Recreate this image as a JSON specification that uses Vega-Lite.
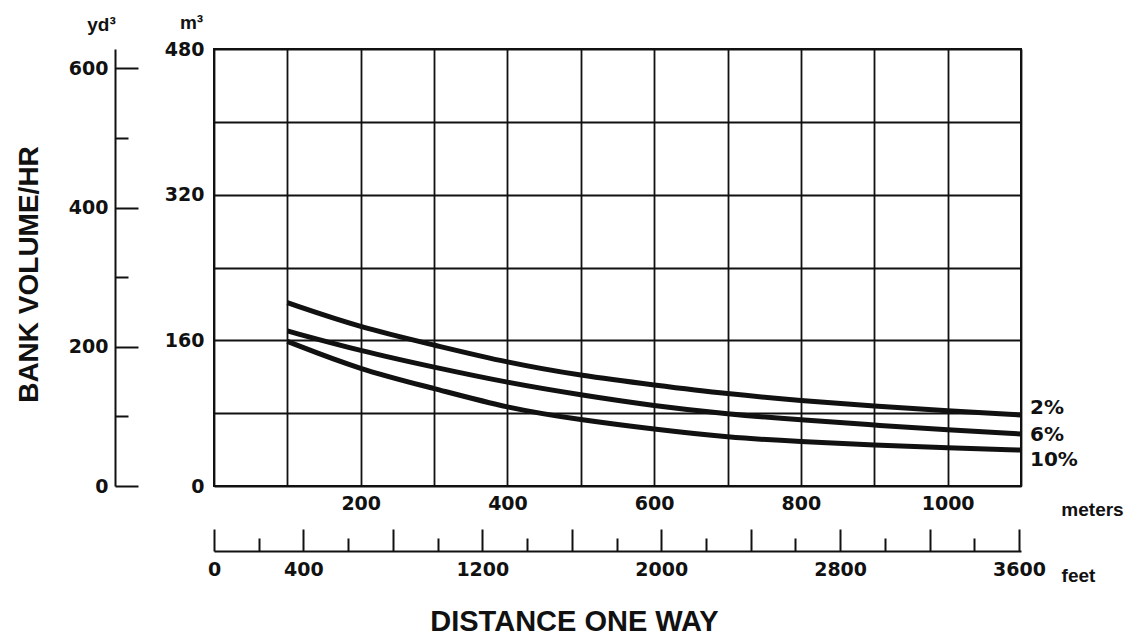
{
  "$schema": "https://vega.github.io/schema/vega-lite/v6.json",
  "autosize": "none",
  "width": 807,
  "height": 437,
  "padding": {"left": 214, "top": 49, "right": 108, "bottom": 150},
  "background": "white",
  "config": {
    "view": {"stroke": "#111", "strokeWidth": 2},
    "axis": {
      "labelFont": "DejaVu Sans", "labelFontWeight": "bold", "labelFontSize": 19, "labelColor": "#111",
      "titleFont": "Liberation Sans", "titleFontWeight": "bold", "titleFontSize": 19, "titleColor": "#111",
      "labelFlush": false, "gridColor": "#111", "gridWidth": 1.8, "gridOpacity": 1,
      "domainColor": "#111", "tickColor": "#111"
    }
  },
  "resolve": {"scale": {"x": "independent", "y": "independent"}},
  "layer": [
    {
      "data": {"values": [
        {"grade": "2%", "m": 100, "m3": 201.3}, {"grade": "2%", "m": 200, "m3": 173.9}, {"grade": "2%", "m": 300, "m3": 154.9},
        {"grade": "2%", "m": 400, "m3": 135.4}, {"grade": "2%", "m": 500, "m3": 121.2}, {"grade": "2%", "m": 600, "m3": 110.9},
        {"grade": "2%", "m": 700, "m3": 101.1}, {"grade": "2%", "m": 800, "m3": 93.7}, {"grade": "2%", "m": 900, "m3": 87.9},
        {"grade": "2%", "m": 1000, "m3": 82.4}, {"grade": "2%", "m": 1100, "m3": 78.0},
        {"grade": "6%", "m": 100, "m3": 170.3}, {"grade": "6%", "m": 200, "m3": 148.3}, {"grade": "6%", "m": 300, "m3": 130.4},
        {"grade": "6%", "m": 400, "m3": 113.5}, {"grade": "6%", "m": 500, "m3": 100.0}, {"grade": "6%", "m": 600, "m3": 88.0},
        {"grade": "6%", "m": 700, "m3": 79.0}, {"grade": "6%", "m": 800, "m3": 72.5}, {"grade": "6%", "m": 900, "m3": 67.0},
        {"grade": "6%", "m": 1000, "m3": 61.5}, {"grade": "6%", "m": 1100, "m3": 57.1},
        {"grade": "10%", "m": 100, "m3": 158.9}, {"grade": "10%", "m": 200, "m3": 127.4}, {"grade": "10%", "m": 300, "m3": 107.3},
        {"grade": "10%", "m": 400, "m3": 85.4}, {"grade": "10%", "m": 500, "m3": 72.5}, {"grade": "10%", "m": 600, "m3": 62.3},
        {"grade": "10%", "m": 700, "m3": 53.3}, {"grade": "10%", "m": 800, "m3": 48.7}, {"grade": "10%", "m": 900, "m3": 45.0},
        {"grade": "10%", "m": 1000, "m3": 42.0}, {"grade": "10%", "m": 1100, "m3": 39.5}
      ]},
      "encoding": {
        "x": {"field": "m", "type": "quantitative", "scale": {"domain": [0, 1100], "nice": false},
          "axis": {
            "orient": "bottom", "values": [0, 100, 200, 300, 400, 500, 600, 700, 800, 900, 1000, 1100],
            "grid": true, "ticks": false, "domain": false, "format": "d",
            "labelExpr": "datum.value % 200 == 0 && datum.value > 0 && datum.value < 1100 ? datum.label : ''",
            "labelPadding": 8,
            "title": "meters", "titleX": 878, "titleY": 29, "titleBaseline": "alphabetic", "titleAlign": "center"
          }},
        "y": {"field": "m3", "type": "quantitative", "scale": {"domain": [0, 480], "nice": false},
          "axis": {
            "orient": "left", "values": [0, 80, 160, 240, 320, 400, 480],
            "grid": true, "ticks": false, "domain": false, "format": "d",
            "labelExpr": "datum.value % 160 == 0 ? datum.label : ''",
            "labelPadding": 10,
            "title": "m³", "titleAngle": 0, "titleX": -23, "titleY": -27, "titleBaseline": "middle", "titleAlign": "center", "titleFontSize": 19
          }}
      },
      "layer": [
        {
          "mark": {"type": "line", "interpolate": "basis", "strokeWidth": 5, "color": "#111", "strokeCap": "butt"},
          "encoding": {"detail": {"field": "grade"}}
        },
        {
          "data": {"values": [
            {"label": "2%", "m": 1100, "m3": 85.7},
            {"label": "6%", "m": 1100, "m3": 55.5},
            {"label": "10%", "m": 1100, "m3": 28.6}
          ]},
          "mark": {"type": "text", "align": "left", "baseline": "middle", "dx": 9, "font": "DejaVu Sans", "fontWeight": "bold", "fontSize": 20, "color": "#111"},
          "encoding": {"text": {"field": "label"}}
        }
      ]
    },
    {
      "data": {"values": [{"ft": 0, "yd3": 0}]},
      "mark": {"type": "point", "opacity": 0},
      "encoding": {
        "x": {"field": "ft", "type": "quantitative", "scale": {"domain": [0, 3608.9], "nice": false},
          "axis": {
            "orient": "bottom", "offset": 65,
            "values": [0, 200, 400, 600, 800, 1000, 1200, 1400, 1600, 1800, 2000, 2200, 2400, 2600, 2800, 3000, 3200, 3400, 3600],
            "grid": false, "domain": true, "domainWidth": 2, "ticks": true, "tickWidth": 2, "format": "d",
            "tickSize": {"condition": {"test": "datum.value % 400 == 0", "value": -22}, "value": -13},
            "labelExpr": "datum.value == 0 || datum.value % 800 == 400 ? datum.label : ''",
            "labelPadding": 31,
            "title": "feet", "titleX": 864, "titleY": 30, "titleBaseline": "alphabetic", "titleAlign": "center"
          }},
        "y": {"field": "yd3", "type": "quantitative", "scale": {"domain": [0, 627.8], "nice": false},
          "axis": {
            "orient": "left", "offset": 99,
            "values": [0, 100, 200, 300, 400, 500, 600],
            "grid": false, "domain": true, "domainWidth": 2, "ticks": true, "tickWidth": 2, "format": "d",
            "tickSize": {"condition": {"test": "datum.value % 200 == 0", "value": -23}, "value": -13},
            "labelExpr": "datum.value % 200 == 0 ? datum.label : ''",
            "labelPadding": 30,
            "title": "yd³", "titleAngle": 0, "titleX": -14, "titleY": -25, "titleBaseline": "middle", "titleAlign": "center", "titleFontSize": 19
          }}
      }
    },
    {
      "data": {"values": [{"cx": 0, "cy": 0}]},
      "mark": {"type": "point", "opacity": 0},
      "encoding": {
        "x": {"field": "cx", "type": "quantitative", "scale": {"domain": [0, 1], "nice": false},
          "axis": {
            "orient": "bottom", "grid": false, "domain": false, "ticks": false, "labels": false,
            "title": "DISTANCE ONE WAY", "titleX": 360, "titleY": 144, "titleBaseline": "alphabetic", "titleAlign": "center",
            "titleFontSize": 29
          }},
        "y": {"field": "cy", "type": "quantitative", "scale": {"domain": [0, 1], "nice": false},
          "axis": {
            "orient": "left", "grid": false, "domain": false, "ticks": false, "labels": false,
            "title": "BANK VOLUME/HR", "titleAngle": -90, "titleX": -177, "titleY": 225, "titleBaseline": "alphabetic", "titleAlign": "center",
            "titleFontSize": 28
          }}
      }
    }
  ]
}
